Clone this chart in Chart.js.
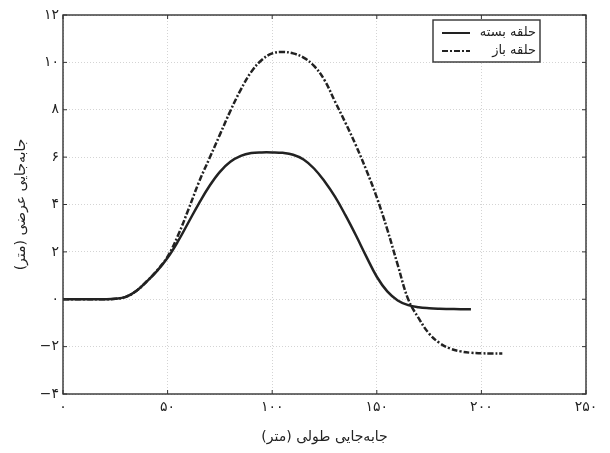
<!DOCTYPE html>
<html lang="fa">
<head>
<meta charset="utf-8">
<title>جابه‌جایی عرضی و طولی</title>
<script src="https://cdn.jsdelivr.net/npm/chart.js@4.4.1/dist/chart.umd.min.js"></script>
<style>
  html, body { margin: 0; padding: 0; background: #ffffff; }
  #wrap { width: 610px; height: 453px; }
</style>
</head>
<body>
<div id="wrap"><canvas id="traj" width="610" height="453"></canvas></div>
<script>
// closed loop path (x, y in metres)
const closedX = [0, 10, 20, 25, 30, 35, 40, 45, 50, 55, 60, 65, 70, 75, 80, 85, 90, 95, 100,
  105, 110, 115, 120, 125, 130, 135, 140, 145, 150, 155, 160, 165, 170, 175, 180, 185, 190, 195];
const closedY = [0, 0, 0, 0.02, 0.1, 0.35, 0.75, 1.2, 1.75, 2.45, 3.25, 4.05, 4.78, 5.38, 5.8, 6.05, 6.17, 6.2, 6.2,
  6.18, 6.1, 5.9, 5.52, 4.98, 4.33, 3.55, 2.7, 1.8, 0.95, 0.33, -0.05, -0.25, -0.34, -0.38, -0.4, -0.41, -0.42, -0.42];

// open loop path
const openX = [0, 10, 20, 25, 30, 35, 40, 45, 50, 55, 60, 65, 70, 75, 80, 85, 90, 95, 100,
  105, 110, 115, 120, 125, 130, 135, 140, 145, 150, 155, 160, 165, 170, 175, 180, 185, 190, 195, 200, 205, 210];
const openY = [0, 0, 0, 0.02, 0.1, 0.35, 0.75, 1.22, 1.8, 2.7, 3.8, 4.95, 5.95, 6.95, 7.95, 8.85, 9.6, 10.1, 10.38,
  10.44, 10.38, 10.2, 9.85, 9.25, 8.35, 7.45, 6.5, 5.45, 4.3, 2.95, 1.45, 0.0, -0.8, -1.45, -1.85, -2.08, -2.2, -2.26, -2.28, -2.29, -2.29];

const seriesNames = ["حلقه بسته", "حلقه باز"];
const xTickLabels = ["۰", "۵۰", "۱۰۰", "۱۵۰", "۲۰۰", "۲۵۰"];
const yTickLabels = ["−۴", "−۲", "۰", "۲", "۴", "۶", "۸", "۱۰", "۱۲"];
const xTitle = "جابه‌جایی طولی (متر)";
const yTitle = "جابه‌جایی عرضی (متر)";

const ink = "#222";
const faFont = "'DejaVu Sans', sans-serif";

function toPoints(xs, ys) {
  return xs.map((x, i) => ({ x: x, y: ys[i] }));
}

// box around the plot plus the small inward ticks on every side
const frame = {
  id: "frame",
  afterDatasetsDraw(chart) {
    const { ctx, chartArea: a, scales } = chart;
    ctx.save();
    ctx.strokeStyle = "#333";
    ctx.lineWidth = 1.4;
    ctx.strokeRect(a.left, a.top, a.right - a.left, a.bottom - a.top);
    ctx.lineWidth = 1;
    scales.x.ticks.forEach((t) => {
      const px = scales.x.getPixelForValue(t.value);
      ctx.beginPath();
      ctx.moveTo(px, a.bottom); ctx.lineTo(px, a.bottom - 4);
      ctx.moveTo(px, a.top); ctx.lineTo(px, a.top + 4);
      ctx.stroke();
    });
    scales.y.ticks.forEach((t) => {
      const py = scales.y.getPixelForValue(t.value);
      ctx.beginPath();
      ctx.moveTo(a.left, py); ctx.lineTo(a.left + 4, py);
      ctx.moveTo(a.right, py); ctx.lineTo(a.right - 4, py);
      ctx.stroke();
    });
    ctx.restore();
  }
};

// legend box in the top-right corner, written right-to-left
const boxLegend = {
  id: "boxLegend",
  afterDraw(chart) {
    const { ctx, chartArea: a } = chart;
    const right = a.right - 46, left = right - 107;
    const top = a.top + 5, bottom = top + 42;
    ctx.save();
    ctx.fillStyle = "#fff";
    ctx.fillRect(left, top, right - left, bottom - top);
    ctx.strokeStyle = "#333";
    ctx.lineWidth = 1.4;
    ctx.strokeRect(left, top, right - left, bottom - top);
    chart.data.datasets.forEach((ds, i) => {
      const y = top + 13 + i * 18;
      ctx.strokeStyle = ds.borderColor;
      ctx.lineWidth = 2;
      ctx.setLineDash(ds.borderDash || []);
      ctx.beginPath();
      ctx.moveTo(left + 9, y);
      ctx.lineTo(left + 37, y);
      ctx.stroke();
      ctx.setLineDash([]);
      ctx.fillStyle = ink;
      ctx.font = "13px " + faFont;
      ctx.direction = "rtl";
      ctx.textAlign = "right";
      ctx.textBaseline = "middle";
      ctx.fillText(ds.label, right - 4, y);
    });
    ctx.restore();
  }
};

new Chart(document.getElementById("traj"), {
  type: "line",
  data: {
    datasets: [
      {
        label: seriesNames[0],
        data: toPoints(closedX, closedY),
        borderColor: ink,
        borderWidth: 2.5,
        pointRadius: 0,
        tension: 0.4
      },
      {
        label: seriesNames[1],
        data: toPoints(openX, openY),
        borderColor: ink,
        borderWidth: 2.5,
        borderDash: [6, 2, 2, 2],
        pointRadius: 0,
        tension: 0.4
      }
    ]
  },
  options: {
    responsive: false,
    animation: false,
    layout: { padding: { top: 15, right: 24, left: 0, bottom: 0 } },
    plugins: {
      legend: { display: false },
      tooltip: { enabled: false }
    },
    scales: {
      x: {
        type: "linear",
        min: 0,
        max: 250,
        afterFit: (s) => { s.height = 59; },
        ticks: {
          stepSize: 50,
          padding: 5,
          color: ink,
          font: { family: faFont, size: 14 },
          maxRotation: 0,
          callback: (v, i) => xTickLabels[i]
        },
        grid: { color: "#d4d4d4", drawTicks: false },
        border: { display: false, dash: [1, 2] },
        title: {
          display: true,
          text: xTitle,
          color: ink,
          font: { family: faFont, size: 14 },
          padding: { top: 0, bottom: 7 }
        }
      },
      y: {
        min: -4,
        max: 12,
        afterFit: (s) => { s.width = 63; },
        ticks: {
          stepSize: 2,
          padding: 4,
          color: ink,
          font: { family: faFont, size: 14 },
          callback: (v, i) => yTickLabels[i]
        },
        grid: { color: "#d4d4d4", drawTicks: false },
        border: { display: false, dash: [1, 2] },
        title: {
          display: true,
          text: yTitle,
          color: ink,
          font: { family: faFont, size: 14 },
          padding: { top: 13, bottom: 0 }
        }
      }
    }
  },
  plugins: [frame, boxLegend]
});
</script>
</body>
</html>
